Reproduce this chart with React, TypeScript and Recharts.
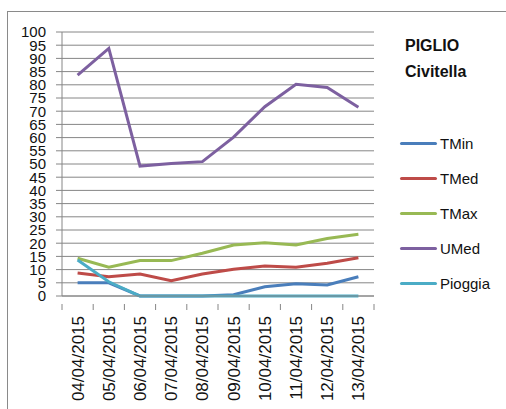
import { LineChart, Line, XAxis, YAxis, CartesianGrid } from "recharts";

const dates = [
  "04/04/2015",
  "05/04/2015",
  "06/04/2015",
  "07/04/2015",
  "08/04/2015",
  "09/04/2015",
  "10/04/2015",
  "11/04/2015",
  "12/04/2015",
  "13/04/2015",
];
const tMin = [5, 5, 0, 0, 0, 0.5, 3.5, 4.6, 4.2, 7.3];
const tMed = [8.7, 7.3, 8.3, 5.8, 8.3, 10.1, 11.4, 10.9, 12.4, 14.5];
const tMax = [14.3, 10.9, 13.4, 13.4, 16.2, 19.3, 20.2, 19.3, 21.8, 23.4];
const uMed = [83.7, 93.8, 49.2, 50.2, 50.9, 60.2, 71.7, 80.2, 79, 71.5];
const pioggia = [13.6, 5.4, 0, 0, 0, 0, 0, 0, 0, 0];
const yTicks = [0, 5, 10, 15, 20, 25, 30, 35, 40, 45, 50, 55, 60, 65, 70, 75, 80, 85, 90, 95, 100];

const series = [
  { key: "TMin", values: tMin, color: "#4a7ebb" },
  { key: "TMed", values: tMed, color: "#be4b48" },
  { key: "TMax", values: tMax, color: "#98b954" },
  { key: "UMed", values: uMed, color: "#7d60a0" },
  { key: "Pioggia", values: pioggia, color: "#4bacc6" },
];

const data = dates.map((d, i) => {
  const row: Record<string, string | number> = { date: d };
  series.forEach((s) => (row[s.key] = s.values[i]));
  return row;
});

const W = 506;
const H = 409;
const PLOT_LEFT = 62;
const PLOT_RIGHT = 374;
const PLOT_TOP = 32;
const PLOT_BOTTOM = 296;
const HALF = (PLOT_RIGHT - PLOT_LEFT) / dates.length / 2;
const GRID = "#868686";
const FONT = "'Liberation Sans', Arial, sans-serif";

function DateTick(props: any) {
  const { x, y, payload, index } = props;
  return (
    <g transform={`translate(${x},${y})`}>
      <line x1={-HALF} x2={-HALF} y1={0} y2={6} stroke={GRID} />
      {index === dates.length - 1 && (
        <line x1={HALF} x2={HALF} y1={0} y2={6} stroke={GRID} />
      )}
      <text
        transform="rotate(-90)"
        x={-12}
        y={0}
        dy={6}
        textAnchor="end"
        fontSize={17}
        fontFamily={FONT}
        fill="#111"
      >
        {payload.value}
      </text>
    </g>
  );
}

export default function App() {
  return (
    <div
      style={{
        position: "fixed",
        left: 0,
        top: 0,
        width: W,
        height: H,
        overflow: "hidden",
        background: "#fff",
        fontFamily: FONT,
      }}
    >
      <div
        style={{
          position: "absolute",
          left: 7,
          top: 11,
          width: 600,
          height: 600,
          borderLeft: "1px solid #8a8a8a",
          borderTop: "1px solid #8a8a8a",
        }}
      />
      <div style={{ position: "absolute", left: 0, top: 0 }}>
        <LineChart
          width={W}
          height={H}
          data={data}
          margin={{ top: PLOT_TOP, right: W - PLOT_RIGHT, bottom: 0, left: 0 }}
        >
          <CartesianGrid vertical={false} stroke={GRID} />
          <XAxis
            dataKey="date"
            height={H - PLOT_BOTTOM}
            interval={0}
            padding={{ left: HALF, right: HALF }}
            axisLine={{ stroke: GRID }}
            tickLine={false}
            tick={<DateTick />}
          />
          <YAxis
            width={PLOT_LEFT}
            domain={[0, 100]}
            ticks={yTicks}
            interval={0}
            axisLine={{ stroke: GRID }}
            tickLine={{ stroke: GRID }}
            tickSize={6}
            tickMargin={10}
            tick={{ fontSize: 15, fontFamily: FONT, fill: "#111" }}
          />
          {series.map((s) => (
            <Line
              key={s.key}
              dataKey={s.key}
              type="linear"
              stroke={s.color}
              strokeWidth={3}
              dot={false}
              isAnimationActive={false}
            />
          ))}
        </LineChart>
      </div>
      <div
        style={{
          position: "absolute",
          left: 405,
          top: 33,
          fontWeight: "bold",
          fontSize: 16,
          lineHeight: "26px",
          color: "#111",
        }}
      >
        PIGLIO
        <br />
        Civitella
      </div>
      {series.map((s, i) => (
        <div
          key={s.key}
          style={{
            position: "absolute",
            left: 400,
            top: 133 + i * 35.2,
            height: 20,
            display: "flex",
            alignItems: "center",
            fontSize: 15,
            color: "#111",
          }}
        >
          <span
            style={{
              display: "inline-block",
              width: 37,
              height: 3,
              borderRadius: 2,
              background: s.color,
              marginRight: 3,
            }}
          />
          {s.key}
        </div>
      ))}
    </div>
  );
}
